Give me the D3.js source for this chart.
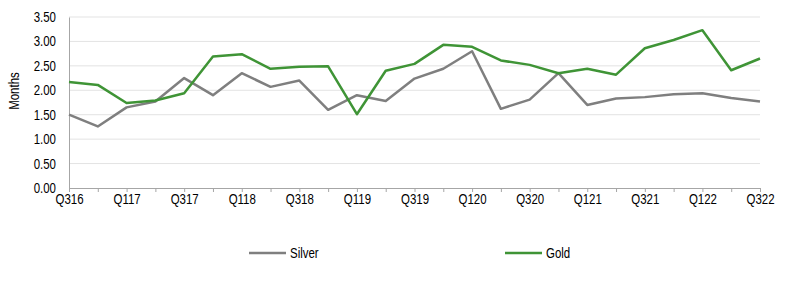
<!DOCTYPE html>
<html>
<head>
<meta charset="utf-8">
<script src="https://cdn.jsdelivr.net/npm/d3@7"></script>
<style>
  html, body { margin: 0; padding: 0; background: #fff; }
  svg text { font-family: "Liberation Sans", Arial, sans-serif; }
</style>
</head>
<body>
<svg id="chart" width="800" height="281"></svg>
<script>
const quarters = ["Q316","Q416","Q117","Q217","Q317","Q417","Q118","Q218","Q318","Q418","Q119","Q219","Q319","Q419","Q120","Q220","Q320","Q420","Q121","Q221","Q321","Q421","Q122","Q222","Q322"];
const silver = [1.50,1.26,1.65,1.77,2.25,1.90,2.35,2.07,2.20,1.60,1.90,1.78,2.24,2.44,2.80,1.62,1.81,2.35,1.70,1.83,1.86,1.92,1.94,1.84,1.77];
const gold = [2.17,2.11,1.74,1.79,1.94,2.69,2.74,2.44,2.48,2.49,1.51,2.40,2.54,2.93,2.89,2.61,2.52,2.35,2.44,2.32,2.86,3.03,3.23,2.41,2.65];
const yTicks = [0,0.5,1,1.5,2,2.5,3,3.5];
const seriesNames = ["Silver","Gold"];
const seriesColors = ["#7f7f7f","#3f9436"];

const svg = d3.select("#chart");
const mLeft = 69, mRight = 760, mTop = 17, mBottom = 188;
const narrow = 0.82;

const x = d3.scalePoint().domain(quarters).range([mLeft, mRight]);
const y = d3.scaleLinear().domain([0, 3.5]).range([mBottom, mTop]);

// gridlines
svg.append("g").selectAll("line").data(yTicks.filter(d => d > 0)).join("line")
  .attr("x1", mLeft).attr("x2", mRight)
  .attr("y1", d => y(d)).attr("y2", d => y(d))
  .attr("stroke", "#e3e3e3").attr("stroke-width", 1);

// y axis
const yAxis = d3.axisLeft(y).tickValues(yTicks).tickFormat(d3.format(".2f")).tickSize(0).tickPadding(13);
const gy = svg.append("g").attr("transform", `translate(${mLeft},0)`).call(yAxis);
gy.select(".domain").attr("stroke", "#a6a6a6");
gy.selectAll("text").attr("font-size", 14).attr("fill", "#000")
  .attr("x", -13 / narrow).attr("transform", `scale(${narrow},1)`)
  .style("font-family", '"Liberation Sans", Arial, sans-serif');

// x axis
const xAxis = d3.axisBottom(x).tickSize(4).tickPadding(2)
  .tickFormat((d, i) => i % 2 === 0 ? d : "");
const gx = svg.append("g").attr("transform", `translate(0,${mBottom})`).call(xAxis);
gx.select(".domain").attr("stroke", "#a6a6a6");
gx.selectAll(".tick line").attr("stroke", "#a6a6a6");
gx.selectAll("text").attr("font-size", 14).attr("fill", "#000")
  .attr("transform", `scale(${narrow},1)`)
  .style("font-family", '"Liberation Sans", Arial, sans-serif');

// y label
svg.append("text").attr("transform", `translate(19,91) rotate(-90) scale(${narrow},1)`)
  .attr("text-anchor", "middle").attr("font-size", 14).attr("fill", "#000").text("Months");

// lines
const line = d3.line().x((d, i) => x(quarters[i])).y(d => y(d));
[silver, gold].forEach((s, k) => {
  svg.append("path").datum(s).attr("d", line)
    .attr("fill", "none").attr("stroke", seriesColors[k]).attr("stroke-width", 2.5)
    .attr("stroke-linejoin", "round");
});

// legend
const legendX = [249, 505];
seriesNames.forEach((n, k) => {
  const g = svg.append("g").attr("transform", `translate(${legendX[k]},253)`);
  g.append("line").attr("x1", 0).attr("x2", 37).attr("stroke", seriesColors[k]).attr("stroke-width", 2.5);
  g.append("text").attr("transform", `translate(41,0) scale(${narrow},1)`)
    .attr("dy", "0.35em").attr("font-size", 14).attr("fill", "#000").text(n);
});
</script>
</body>
</html>
